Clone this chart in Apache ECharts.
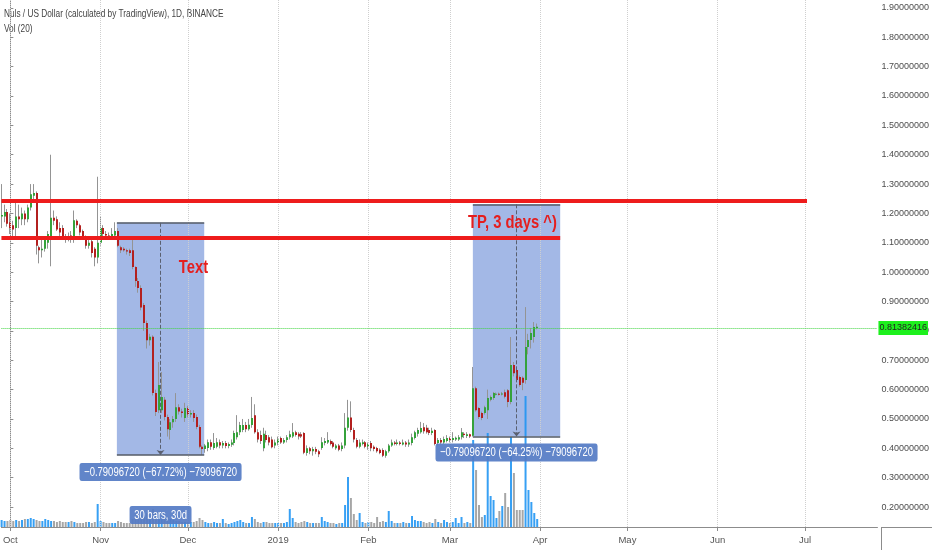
<!DOCTYPE html>
<html><head><meta charset="utf-8">
<script src="https://cdn.jsdelivr.net/npm/echarts@6/dist/echarts.min.js"></script>
<style>html,body{margin:0;padding:0;background:#fff}#c{width:932px;height:550px}</style>
</head><body><div id="c"></div>
<script>
// Day index 0 = 2018-10-01; first candle is 2018-09-28 (day -3)
const firstDay = -3;
// Candles as [open, close, low, high]
const sepOctCandles = [
 [1.19,1.195,1.15,1.30],[1.19,1.205,1.17,1.23],[1.205,1.165,1.155,1.215],
 [1.17,1.15,1.13,1.20],[1.16,1.145,1.11,1.175],[1.15,1.19,1.12,1.24],[1.19,1.18,1.15,1.23],
 [1.18,1.20,1.16,1.22],[1.20,1.18,1.16,1.21],[1.18,1.22,1.17,1.23],[1.22,1.265,1.21,1.30],
 [1.26,1.27,1.24,1.30],[1.27,1.09,1.06,1.275],[1.085,1.075,1.03,1.09],[1.075,1.08,1.05,1.11],
 [1.08,1.11,1.07,1.12],[1.10,1.13,1.08,1.14],[1.12,1.185,1.02,1.40],[1.185,1.175,1.16,1.21],
 [1.18,1.145,1.14,1.19],[1.15,1.135,1.12,1.17],[1.15,1.12,1.11,1.16],[1.12,1.115,1.10,1.13],
 [1.115,1.12,1.105,1.135],[1.125,1.11,1.10,1.14],[1.11,1.177,1.10,1.21],[1.175,1.16,1.15,1.18],
 [1.16,1.135,1.125,1.165],[1.14,1.12,1.11,1.145],[1.12,1.09,1.08,1.125],[1.09,1.10,1.08,1.11],
 [1.105,1.065,1.05,1.11],[1.08,1.05,1.02,1.085],[1.05,1.10,1.03,1.325]
];
const novCandles = [
 [1.10,1.15,1.09,1.19],[1.15,1.13,1.12,1.16],[1.13,1.125,1.11,1.14],[1.125,1.12,1.11,1.135],
 [1.12,1.13,1.11,1.15],[1.125,1.14,1.12,1.17],[1.14,1.09,1.085,1.15],[1.085,1.075,1.065,1.09],
 [1.08,1.075,1.07,1.085],[1.075,1.07,1.06,1.08],[1.075,1.065,1.055,1.08],[1.075,1.018,1.01,1.11],
 [1.018,0.97,0.95,1.02],[0.97,0.946,0.93,0.98],[0.946,0.88,0.87,0.955],[0.888,0.827,0.80,0.895],
 [0.827,0.768,0.74,0.835],[0.768,0.78,0.75,0.79],[0.78,0.588,0.58,0.785],[0.588,0.524,0.51,0.60],
 [0.53,0.616,0.52,0.694],[0.53,0.575,0.52,0.66],[0.565,0.507,0.495,0.575],[0.507,0.465,0.44,0.515],
 [0.462,0.489,0.43,0.50],[0.489,0.50,0.47,0.51],[0.50,0.54,0.49,0.588],[0.54,0.525,0.515,0.55],
 [0.525,0.52,0.505,0.535],[0.503,0.537,0.49,0.555]
];
const decCandles = [
 [0.537,0.515,0.505,0.545],[0.515,0.52,0.505,0.53],[0.52,0.503,0.49,0.53],[0.507,0.473,0.465,0.515],
 [0.473,0.405,0.40,0.48],[0.405,0.398,0.377,0.41],[0.398,0.41,0.385,0.415],[0.401,0.421,0.39,0.43],
 [0.421,0.405,0.395,0.43],[0.401,0.418,0.395,0.452],[0.405,0.421,0.40,0.435],[0.421,0.41,0.40,0.43],
 [0.41,0.418,0.40,0.425],[0.418,0.408,0.40,0.425],[0.408,0.415,0.40,0.42],[0.412,0.42,0.405,0.43],
 [0.418,0.452,0.41,0.46],[0.438,0.455,0.43,0.513],[0.455,0.479,0.445,0.49],[0.462,0.479,0.455,0.50],
 [0.479,0.465,0.455,0.49],[0.465,0.48,0.46,0.50],[0.479,0.503,0.47,0.575],[0.513,0.455,0.45,0.55],
 [0.455,0.43,0.42,0.465],[0.445,0.425,0.415,0.46],[0.40,0.45,0.39,0.47],[0.445,0.428,0.42,0.46],
 [0.438,0.42,0.41,0.445],[0.43,0.404,0.40,0.44],[0.41,0.42,0.40,0.43]
];
const janCandles = [
 [0.418,0.43,0.41,0.44],[0.435,0.42,0.415,0.44],[0.42,0.428,0.415,0.435],[0.428,0.438,0.42,0.445],
 [0.438,0.448,0.43,0.46],[0.44,0.455,0.435,0.486],[0.455,0.445,0.44,0.46],[0.45,0.44,0.43,0.455],
 [0.448,0.44,0.435,0.455],[0.452,0.385,0.38,0.455],[0.384,0.40,0.375,0.41],[0.40,0.39,0.38,0.405],
 [0.39,0.398,0.375,0.405],[0.398,0.388,0.38,0.405],[0.39,0.38,0.37,0.395],[0.401,0.421,0.395,0.438],
 [0.418,0.425,0.41,0.435],[0.42,0.428,0.415,0.455],[0.425,0.415,0.41,0.43],[0.42,0.405,0.40,0.425],
 [0.40,0.41,0.395,0.415],[0.41,0.395,0.39,0.415],[0.398,0.41,0.39,0.42],[0.41,0.47,0.40,0.52],
 [0.47,0.505,0.46,0.565],[0.505,0.462,0.455,0.56],[0.462,0.43,0.42,0.47],[0.428,0.405,0.40,0.435],
 [0.405,0.42,0.40,0.43],[0.415,0.421,0.41,0.43],[0.421,0.405,0.40,0.425]
];
const febCandles = [
 [0.405,0.415,0.395,0.42],[0.418,0.40,0.39,0.425],[0.405,0.398,0.39,0.41],[0.401,0.39,0.385,0.405],
 [0.395,0.384,0.38,0.40],[0.394,0.375,0.37,0.40],[0.375,0.39,0.368,0.395],[0.39,0.41,0.385,0.415],
 [0.41,0.42,0.405,0.43],[0.42,0.415,0.41,0.425],[0.415,0.42,0.41,0.43],[0.42,0.415,0.41,0.425],
 [0.413,0.42,0.41,0.43],[0.42,0.413,0.405,0.425],[0.413,0.42,0.405,0.43],[0.418,0.438,0.41,0.45],
 [0.435,0.455,0.43,0.46],[0.45,0.462,0.44,0.47],[0.455,0.469,0.45,0.49],[0.472,0.458,0.45,0.486],
 [0.47,0.455,0.45,0.48],[0.462,0.452,0.445,0.47],[0.452,0.46,0.445,0.47],[0.462,0.415,0.41,0.465],
 [0.418,0.428,0.41,0.435],[0.428,0.42,0.415,0.435],[0.42,0.432,0.415,0.44],[0.425,0.435,0.42,0.445]
];
const marCandles = [
 [0.435,0.428,0.42,0.44],[0.428,0.435,0.42,0.455],[0.43,0.436,0.425,0.44],[0.43,0.438,0.425,0.445],
 [0.438,0.455,0.43,0.469],[0.45,0.445,0.435,0.455],[0.442,0.448,0.435,0.455],[0.448,0.44,0.435,0.45],
 [0.443,0.605,0.44,0.677],[0.605,0.53,0.525,0.61],[0.537,0.507,0.50,0.54],[0.52,0.503,0.496,0.525],
 [0.52,0.54,0.515,0.545],[0.53,0.571,0.50,0.60],[0.565,0.575,0.56,0.58],[0.571,0.588,0.565,0.592],
 [0.584,0.586,0.58,0.59],[0.586,0.584,0.58,0.59],[0.584,0.587,0.58,0.592],[0.591,0.576,0.57,0.60],
 [0.598,0.558,0.54,0.602],[0.558,0.684,0.55,0.779],[0.684,0.656,0.645,0.694],[0.667,0.633,0.625,0.672],
 [0.643,0.616,0.61,0.648],[0.64,0.623,0.598,0.645],[0.633,0.745,0.62,0.881],[0.745,0.769,0.72,0.79],
 [0.769,0.793,0.74,0.81],[0.779,0.813,0.76,0.83],[0.81,0.81382416,0.805,0.825]
];
// Volume (relative units) per day, same order
const sepOctVolume = [7,6,6,7,6,7,6,7,8,8,9,8,7,6,6,8,7,6,6,5,6,5,5,5,6,5,4,4,4,5,5,4,5,23];
const novVolume = [6,5,4,4,4,4,6,5,4,4,4,8,10,9,12,12,14,8,18,14,12,10,9,10,8,7,6,6,5,5];
const decVolume = [5,5,5,6,9,7,5,4,4,5,4,4,8,4,3,4,5,6,7,5,4,4,10,8,5,4,5,5,4,4,4];
const janVolume = [4,4,4,5,18,9,5,4,5,6,5,4,4,4,4,10,6,5,4,4,3,4,4,22,50,29,13,7,14,5,4];
const febVolume = [5,5,4,10,5,6,5,16,6,4,4,4,5,4,4,11,7,6,6,5,4,5,4,8,5,4,7,5];
const marVolume = [4,5,9,4,10,4,5,4,87,57,22,10,12,94,31,27,9,16,21,34,20,90,54,17,17,17,131,37,25,14,8];

const monthTicks = [0,31,61,92,123,151,182,212,243,273];
const monthLabels = ['Oct','Nov','Dec','2019','Feb','Mar','Apr','May','Jun','Jul'];
const priceTicks = [0.2,0.3,0.4,0.5,0.6,0.7,0.8,0.9,1.0,1.1,1.2,1.3,1.4,1.5,1.6,1.7,1.8,1.9];
const lastPrice = 0.81382416;
// horizontal levels: [price, fromDay, toDay]
const levels = [[1.2424,-3.07,273.7],[1.1164,-3.07,188.9]];
// date & price ranges: [fromDay, toDay, highPrice, lowPrice]
const ranges = [[36.6,66.6,1.168,0.377],[158.9,188.9,1.2311,0.4401]];
const rangeTexts = ['\u22120.79096720 (\u221267.72%) \u221279096720','\u22120.79096720 (\u221264.25%) \u221279096720'];
const barsText = '30 bars, 30d';
const barsTextPrice = 0.1726;
// free text notes: [day, price, text]
const notes = [[62.9,1.0142,'Text'],[172.5,1.1675,'TP, 3 days ^)']];

const GREEN='#35a23b', RED='#b3201f', BLUE='rgba(33,150,243,0.9)', GRAY='rgba(150,150,150,0.85)';
const FONT="'Liberation Sans',Arial,sans-serif";

const candles = [].concat(sepOctCandles,novCandles,decCandles,janCandles,febCandles,marCandles);
const volumes = [].concat(sepOctVolume,novVolume,decVolume,janVolume,febVolume,marVolume);
const candleData = candles.map((c,i)=>[firstDay+i,c[0],c[1],c[2],c[3]]);
const volData = volumes.map((v,i)=>({value:[firstDay+i,v],itemStyle:{color:candles[i][1]>=candles[i][0]?BLUE:GRAY}}));

function renderCandle(params, api){
  const x=api.value(0),o=api.value(1),c=api.value(2),l=api.value(3),h=api.value(4);
  const pO=api.coord([x,o]),pC=api.coord([x,c]),pL=api.coord([x,l]),pH=api.coord([x,h]);
  const x0=Math.round(pO[0]-1);
  const top=Math.min(pO[1],pC[1]),bot=Math.max(pO[1],pC[1]);
  return {type:'group',children:[
    {type:'line',shape:{x1:x0+0.5,y1:pH[1],x2:x0+0.5,y2:pL[1]},style:{stroke:'#949494',lineWidth:1}},
    {type:'rect',shape:{x:x0,y:top,width:2,height:Math.max(1,bot-top)},style:{fill:c>=o?GREEN:RED}}
  ]};
}

// annotation labels anchored to data coordinates
const mid = r=>(r[0]+r[1])/2;
const boxStyle = {backgroundColor:'rgba(84,123,196,0.92)',fill:'#fff',borderRadius:3,padding:[3,6,2,6],font:'12.5px '+FONT};
const noteStyle = {fill:'#e51e1e',font:'bold 18px '+FONT};
const labelItems = [
  {at:[mid(ranges[0]),ranges[0][3]],text:rangeTexts[0],dy:17,sx:0.76,st:boxStyle},
  {at:[mid(ranges[1]),ranges[1][3]],text:rangeTexts[1],dy:16,sx:0.76,st:boxStyle},
  {at:[mid(ranges[0]),barsTextPrice],text:barsText,dy:0,sx:0.76,st:boxStyle},
  ...notes.map(n=>({at:[n[0],n[1]],text:n[2],dy:0,sx:0.82,st:noteStyle}))
];
function renderLabel(params, api){
  const it=labelItems[api.value(2)];
  const p=api.coord([api.value(0),api.value(1)]);
  return {type:'text',x:p[0],y:p[1]+it.dy,scaleX:it.sx,
    style:Object.assign({text:it.text,align:'center',verticalAlign:'middle'},it.st)};
}

const chart = echarts.init(document.getElementById('c'));
const rangeAreas = ranges.map(r=>[{coord:[r[0],r[2]]},{coord:[r[1],r[3]]}]);
const rangeEdges = [];
ranges.forEach(r=>{
  rangeEdges.push([{coord:[r[0],r[2]]},{coord:[r[1],r[2]]}]);
  rangeEdges.push([{coord:[r[0],r[3]]},{coord:[r[1],r[3]]}]);
});
const midLines = ranges.map(r=>[{coord:[mid(r),r[2]],symbol:'none'},{coord:[mid(r),r[3]],symbol:'arrow',symbolSize:[6,5]}]);

const option = {
  animation:false,
  grid:{left:0,right:51,top:0,bottom:23},
  xAxis:{type:'value',min:-3.07,max:297.9,
    axisLine:{lineStyle:{color:'#8c8c8c'}},
    axisTick:{customValues:monthTicks,length:4,lineStyle:{color:'#8c8c8c'}},
    axisLabel:{customValues:monthTicks,formatter:v=>monthLabels[monthTicks.indexOf(v)],color:'#555',fontSize:9.5,margin:8,fontFamily:FONT},
    splitLine:{show:false}},
  yAxis:[
    {type:'value',position:'right',min:0.132,max:1.927,
      axisLine:{show:true,lineStyle:{color:'#8c8c8c'}},
      axisTick:{show:true,customValues:priceTicks,length:3,lineStyle:{color:'#8c8c8c'}},
      axisLabel:{customValues:priceTicks,formatter:v=>v.toFixed(8),color:'#4d4d4d',fontSize:9,margin:4,fontFamily:FONT},
      splitLine:{show:false}},
    {type:'value',min:0,max:527,show:false}
  ],
  graphic:[
    {type:'text',x:4,y:8,scaleX:0.72,style:{text:'Nuls / US Dollar (calculated by TradingView), 1D, BINANCE',fill:'#444',font:'11.5px '+FONT,verticalAlign:'top'}},
    {type:'text',x:4,y:23,scaleX:0.72,style:{text:'Vol (20)',fill:'#444',font:'11.5px '+FONT,verticalAlign:'top'}},
    {type:'line',shape:{x1:881.5,y1:527,x2:881.5,y2:550},style:{stroke:'#8c8c8c'}},
    {type:'line',shape:{x1:881,y1:527.5,x2:932,y2:527.5},style:{stroke:'#8c8c8c'}}
  ],
  series:[
    {name:'grid',type:'line',data:[],z:1,silent:true,
      markLine:{silent:true,symbol:'none',label:{show:false},animation:false,
        lineStyle:{color:'#cfcfcf',type:'dotted',width:1},
        data:monthTicks.map(m=>({xAxis:m}))}},
    {name:'ranges',type:'line',data:[],z:2,silent:true,
      markArea:{silent:true,itemStyle:{color:'rgba(71,113,205,0.5)'},data:rangeAreas},
      markLine:{silent:true,symbol:'none',label:{show:false},animation:false,
        lineStyle:{color:'#555b66',type:'solid',width:1.5},data:rangeEdges}},
    {name:'rangeMid',type:'line',data:[],z:2,silent:true,
      markLine:{silent:true,label:{show:false},animation:false,
        lineStyle:{color:'#5a6070',type:'dashed',width:1},data:midLines}},
    {name:'Vol',type:'bar',xAxisIndex:0,yAxisIndex:1,barWidth:2,data:volData,z:3,silent:true},
    {name:'NULSUSD',type:'custom',renderItem:renderCandle,data:candleData,z:4,silent:true,
      encode:{x:0,y:[1,2,3,4]},
      markLine:{silent:true,symbol:'none',animation:false,
        data:[{yAxis:lastPrice,lineStyle:{color:'#3fd43f',type:'dotted',width:1},
          label:{show:true,position:'end',distance:1,formatter:'0.81382416',backgroundColor:'#1df01d',color:'#222',padding:[3,1,2,1],fontSize:9,fontFamily:FONT}}]}},
    {name:'levels',type:'line',data:[],z:5,silent:true,
      markLine:{silent:true,symbol:'none',label:{show:false},animation:false,
        lineStyle:{color:'#ee1c1c',type:'solid',width:4},
        data:levels.map(l=>[{coord:[l[1],l[0]]},{coord:[l[2],l[0]]}])}},
    {name:'notes',type:'custom',renderItem:renderLabel,z:6,silent:true,clip:false,
      data:labelItems.map((it,i)=>[it.at[0],it.at[1],i])}
  ]
};
chart.setOption(option);
</script></body></html>
